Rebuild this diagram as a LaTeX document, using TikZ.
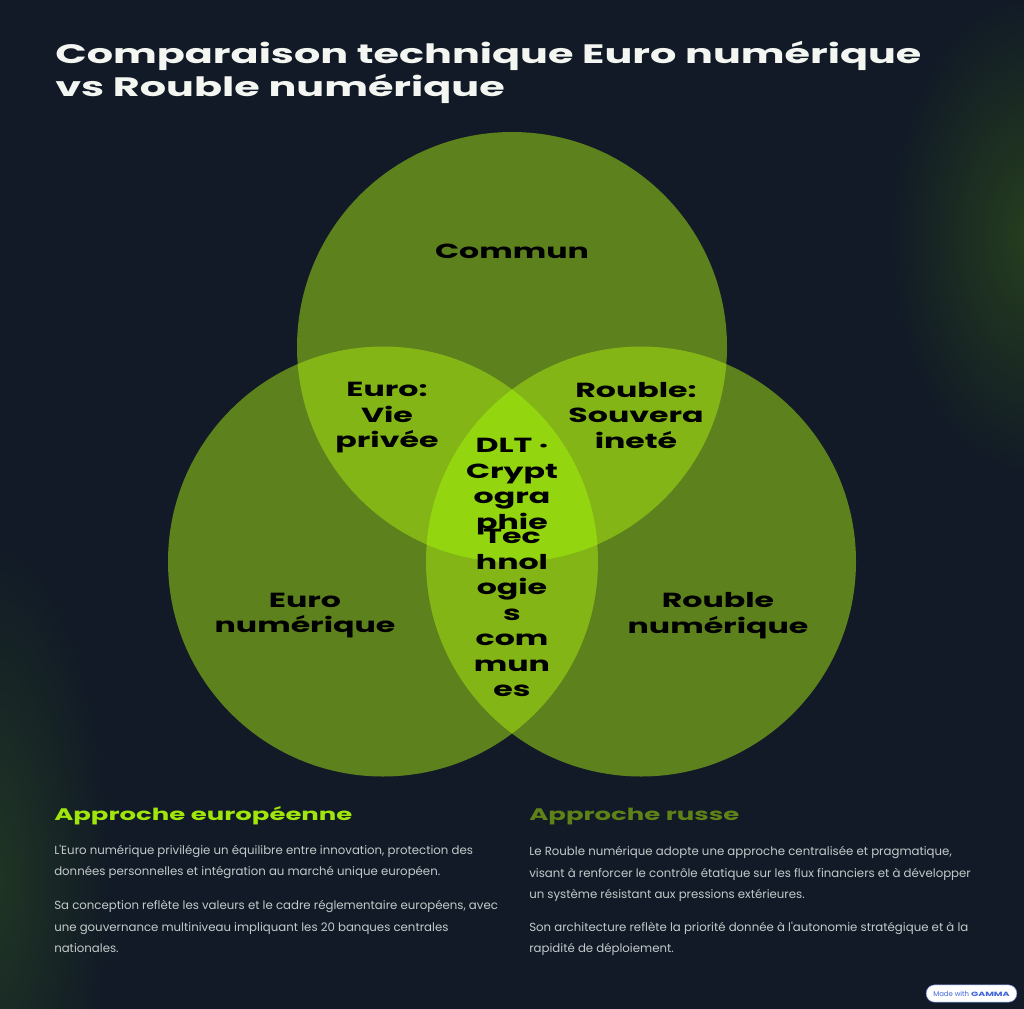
\documentclass[tikz,border=0pt]{standalone}
\usepackage{fontspec}
\setmainfont{Lato}
\newfontfamily\widefont[FakeStretch=1.55]{Poppins Bold}
\newfontfamily\bodyfont{Poppins}
\definecolor{bgc}{HTML}{111A26}
\definecolor{glowr}{HTML}{263F1E}
\definecolor{glowl}{HTML}{203624}
\definecolor{lime}{RGB}{170,233,20}
\definecolor{triple}{HTML}{93D60F}
\definecolor{accent}{HTML}{A0E60B}
\definecolor{russe}{HTML}{5E8118}
\definecolor{bodyc}{HTML}{C4CACA}
\definecolor{titlec}{HTML}{F3F6F1}
\definecolor{gammac}{HTML}{3F62D8}
\tikzset{
  vennc/.style={circle,minimum size=430*0.75pt,inner sep=0pt,fill=lime,fill opacity=0.5,text opacity=1},
  lab/.style={anchor=center,align=center,text=black,inner sep=0pt,font=\widefont\fontsize{15.3}{19.1}\selectfont},
  head/.style={anchor=base west,inner sep=0pt,font=\widefont\fontsize{12.55}{16}\selectfont},
  para/.style={anchor=base west,align=left,inner sep=0pt,text=bodyc,font=\bodyfont\fontsize{8.82}{16.1}\selectfont},
  ttl/.style={anchor=base west,align=left,inner sep=0pt,text=titlec,font=\widefont\fontsize{20}{24.7}\selectfont},
  badge/.style={draw=gammac!70,line width=0.4pt,fill=white,rounded corners=6.4pt,minimum width=68pt,minimum height=13pt,inner sep=0pt,text=gammac,font=\bodyfont\fontsize{5.2}{6}\selectfont}
}
\begin{document}
\begin{tikzpicture}[x=0.75pt,y=-0.75pt]
\useasboundingbox (0,0) rectangle (1024,1008);
\fill[bgc] (-2,-2) rectangle (1026,1010);
\begin{scope}
\clip (-2,-2) rectangle (1026,1010);
\shade[inner color=glowr,outer color=bgc] (1035,235) ellipse (145 and 240);
\shade[inner color=glowl,outer color=bgc] (-10,880) ellipse (120 and 340);
\end{scope}
\node[vennc] (top) at (512,347) {};
\node[vennc] (left) at (383,561.5) {};
\node[vennc] (right) at (641,561.5) {};
\begin{scope}
\clip (512,347) circle (215);
\clip (383,561.5) circle (215);
\fill[triple] (641,561.5) circle (215);
\end{scope}
\node[ttl] (title) at (55,96) {Comparaison technique Euro numérique\\vs Rouble numérique};
\node[lab] (commun) at (512,251) {Commun};
\node[lab] (eurovp) at (387,418) {Euro:\\Vie\\privée};
\node[lab] (roublesv) at (636,415.5) {Rouble:\\Souvera\\ineté};
\node[lab] (dlt) at (512,486.5) {DLT ·\\Crypt\\ogra\\phie};
\node[lab] (tech) at (512,613) {Tec\\hnol\\ogie\\s\\com\\mun\\es};
\node[lab] (euron) at (305,615.5) {Euro\\numérique};
\node[lab] (roublen) at (718,615.5) {Rouble\\numérique};
\node[head,text=accent] (h1) at (54,820) {Approche européenne};
\node[head,text=russe] (h2) at (529,820) {Approche russe};
\node[para] (p1) at (54,875.5) {L'Euro numérique privilégie un équilibre entre innovation, protection des\\données personnelles et intégration au marché unique européen.};
\node[para] (p2) at (54,952.5) {Sa conception reflète les valeurs et le cadre réglementaire européens, avec\\une gouvernance multiniveau impliquant les 20 banques centrales\\nationales.};
\node[para] (p3) at (529,898.5) {Le Rouble numérique adopte une approche centralisée et pragmatique,\\visant à renforcer le contrôle étatique sur les flux financiers et à développer\\un système résistant aux pressions extérieures.};
\node[para] (p4) at (529,952.5) {Son architecture reflète la priorité donnée à l'autonomie stratégique et à la\\rapidité de déploiement.};
\node[badge] (gamma) at (971.5,993.5) {Made with {\widefont\fontsize{4.6}{6}\selectfont GAMMA}};
\end{tikzpicture}
\end{document}
